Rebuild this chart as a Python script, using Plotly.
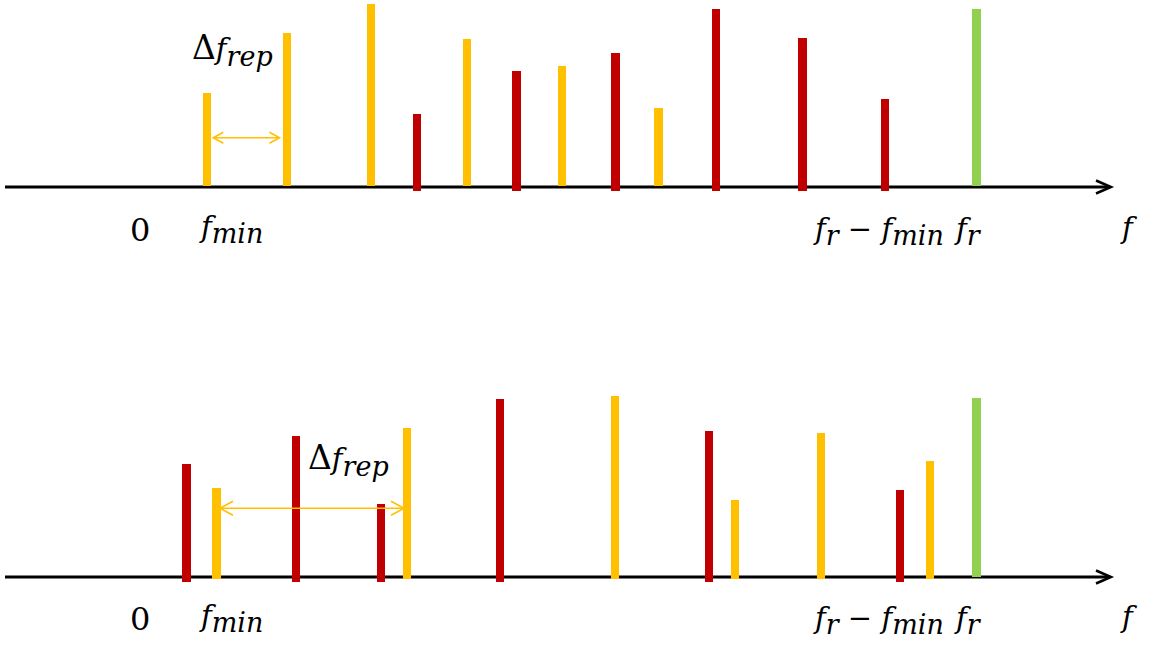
import plotly.graph_objects as go

# Spectral lines: positions on the frequency axis and their amplitudes
top_yellow_f = [206.7, 286.7, 370.7, 466.7, 561.8, 658.5]
top_yellow_a = [94, 154, 183, 148, 121, 79]
top_red_f = [417.0, 516.5, 615.5, 715.8, 802.5, 884.8]
top_red_a = [73, 116, 134, 178, 149, 88]
top_green_f = [976.5]
top_green_a = [178]

bot_red_f = [186.5, 296.0, 380.8, 499.8, 708.7, 899.7]
bot_red_a = [114, 142, 74, 179, 147, 88]
bot_yellow_f = [216.5, 407.3, 615.3, 735.3, 820.8, 929.8]
bot_yellow_a = [90, 150, 182, 78, 145, 117]
bot_green_f = [976.5]
bot_green_a = [180]

# Frequency marks under the axis
f_zero = 140.0
f_min_label = 206.0

YELLOW = "#FFC000"
RED = "#C00000"
GREEN = "#92D050"
BAR_W = 8.3
FONT = "DejaVu Serif"

fig = go.Figure()


def add_lines(xs, amps, color, base, yref):
    fig.add_trace(go.Bar(
        x=xs, y=[a - base for a in amps], base=base, width=BAR_W,
        marker=dict(color=color, line=dict(width=0)),
        xaxis="x", yaxis=yref, showlegend=False, hoverinfo="skip",
    ))


add_lines(top_yellow_f, top_yellow_a, YELLOW, 1.5, "y")
add_lines(top_red_f, top_red_a, RED, -3.5, "y")
add_lines(top_green_f, top_green_a, GREEN, 1.0, "y")
add_lines(bot_red_f, bot_red_a, RED, -4.0, "y2")
add_lines(bot_yellow_f, bot_yellow_a, YELLOW, -1.0, "y2")
add_lines(bot_green_f, bot_green_a, GREEN, 1.0, "y2")

shapes = []
annotations = []


def axis_arrow(yref):
    shapes.append(dict(type="line", xref="x", yref=yref, x0=5, x1=1110, y0=0, y1=0,
                       line=dict(color="black", width=3), layer="below"))
    shapes.append(dict(type="path", xref="x", yref=yref,
                       path="M 1096 6.5 L 1111 0 L 1096 -6.5",
                       line=dict(color="black", width=2.5), layer="below"))


def double_arrow(yref, x0, x1, y, head_len, head_h):
    shapes.append(dict(type="line", xref="x", yref=yref, x0=x0, x1=x1, y0=y, y1=y,
                       line=dict(color=YELLOW, width=1.6)))
    shapes.append(dict(type="path", xref="x", yref=yref,
                       path=f"M {x0 + head_len} {y + head_h} L {x0} {y} L {x0 + head_len} {y - head_h}",
                       line=dict(color=YELLOW, width=1.6)))
    shapes.append(dict(type="path", xref="x", yref=yref,
                       path=f"M {x1 - head_len} {y + head_h} L {x1} {y} L {x1 - head_len} {y - head_h}",
                       line=dict(color=YELLOW, width=1.6)))


def it(s, size):
    return f'<span style="font-size:{size}px"><i>{s}</i></span>'


def sub(s, size):
    return f'<sub><span style="font-size:{size}px"><i>{s}</i></span></sub>'


MAIN = 29
SUB = 27


def label(yref, x, y, text, anchor="left", size=MAIN, family=FONT):
    annotations.append(dict(xref="x", yref=yref, x=x, y=y, text=text, showarrow=False,
                            xanchor=anchor, yanchor="middle",
                            font=dict(family=family, size=size, color="black")))


for yref, ylab in (("y", -42), ("y2", -41)):
    axis_arrow(yref)
    label(yref, f_zero, ylab - 1, '<span style="font-size:32px">0</span>', anchor="center", size=32)
    label(yref, f_min_label - 9, ylab, it("f", MAIN) + sub("min", SUB))
    label(yref, 811, ylab - 2, it("f", MAIN) + sub("r", SUB) + " − " + it("f", MAIN) + sub("min", SUB))
    label(yref, 952, ylab - 2, it("f", MAIN) + sub("r", SUB))
    label(yref, 1118, ylab + 1, it("f", MAIN))

double_arrow("y", 213.3, 279.5, 49.3, 10, 5.5)
double_arrow("y2", 220, 404, 68.7, 13, 7)
label("y", 190, 137, '<span style="font-size:33px">Δ</span>' + it("f", MAIN) + sub("rep", SUB), size=33)
label("y2", 306, 117, '<span style="font-size:33px">Δ</span>' + it("f", MAIN) + sub("rep", SUB), size=33)

fig.update_layout(
    width=1155, height=647,
    margin=dict(l=0, r=0, t=0, b=0),
    paper_bgcolor="white", plot_bgcolor="white",
    barmode="overlay", bargap=0,
    xaxis=dict(range=[0, 1155], domain=[0, 1], visible=False, fixedrange=True),
    yaxis=dict(range=[-136.5, 187], domain=[0.5, 1], visible=False, fixedrange=True),
    yaxis2=dict(range=[-70, 253.5], domain=[0, 0.5], visible=False, fixedrange=True,
                anchor="x"),
    shapes=shapes,
    annotations=annotations,
    showlegend=False,
)

fig.write_html("out.html")
